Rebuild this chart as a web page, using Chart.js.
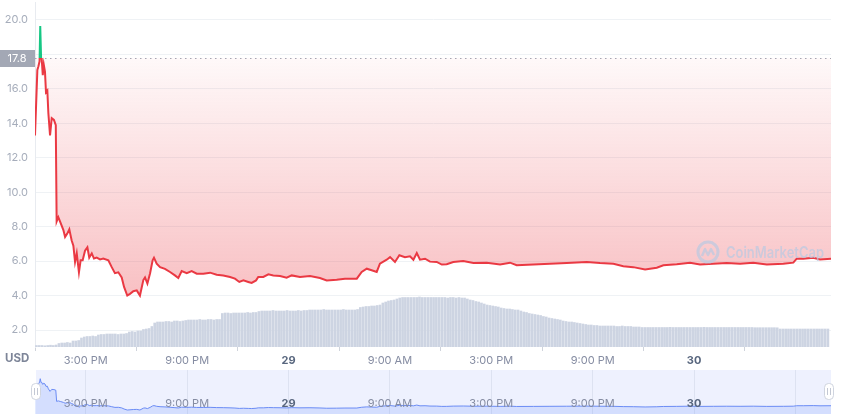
<!DOCTYPE html>
<html><head><meta charset="utf-8">
<script src="https://cdn.jsdelivr.net/npm/chart.js@4.4.1/dist/chart.umd.min.js"></script>
<style>
html,body{margin:0;padding:0;background:#fff;width:855px;height:419px;overflow:hidden}
#main{position:absolute;left:0;top:0}
#nav{position:absolute;left:0;top:370px}
</style></head><body>
<canvas id="main" width="855" height="370"></canvas>
<canvas id="nav" width="855" height="45"></canvas>
<script>
// ---- data ----
const priceHours = [12.00,12.14,12.20,12.27,12.31,12.36,12.40,12.46,12.52,12.59,12.65,12.73,12.79,12.89,12.99,13.12,13.23,13.28,13.38,13.52,
13.68,13.78,13.91,14.03,14.17,14.27,14.37,14.47,14.60,14.70,14.82,14.96,15.10,15.21,15.36,15.49,15.65,15.85,16.04,16.34,
16.54,16.73,16.93,17.13,17.27,17.46,17.62,17.82,18.02,18.21,18.41,18.51,18.65,18.81,18.96,19.04,19.20,19.40,19.69,19.99,
20.28,20.48,20.68,20.98,21.27,21.57,21.96,22.36,22.75,23.14,23.54,23.83,24.09,24.33,24.62,24.82,25.08,25.21,25.51,25.81,
26.10,26.50,26.89,27.19,27.68,28.27,28.86,29.26,29.85,30.34,31.04,31.33,31.63,31.92,32.22,32.41,32.81,33.01,33.30,33.56,
33.89,34.19,34.39,34.59,34.78,35.08,35.37,35.77,36.07,36.36,36.75,37.34,37.94,38.73,39.52,40.11,40.50,41.49,42.47,43.46,
44.65,45.43,46.22,46.81,47.40,48.10,48.79,49.18,49.97,50.76,51.35,52.14,52.93,53.72,54.50,55.30,56.28,56.87,57.07,57.46,
58.05,58.45,59.10];
const priceUSD = [13.3,17.1,17.3,17.6,19.65,17.8,17.7,16.8,17.4,17.0,15.8,15.9,14.6,13.3,14.3,14.2,13.9,8.3,8.55,8.2,
7.8,7.4,7.6,7.85,7.2,6.9,5.95,6.45,5.35,6.05,6.05,6.6,6.8,6.2,6.45,6.15,6.2,6.1,6.15,6.05,
5.65,5.3,5.35,5.05,4.5,4.0,4.1,4.25,4.3,4.0,4.9,5.05,4.7,5.3,6.05,6.2,5.85,5.65,5.55,5.37,
5.17,5.02,5.42,5.3,5.42,5.27,5.27,5.33,5.21,5.17,5.08,4.98,4.79,4.88,4.79,4.73,4.88,5.08,5.08,5.23,
5.17,5.13,5.04,5.17,5.08,5.13,5.02,4.88,4.92,4.98,4.98,5.37,5.56,5.47,5.37,5.85,6.08,6.23,5.95,6.34,
6.23,6.28,6.08,6.47,6.08,6.14,5.97,5.95,5.8,5.82,5.95,6.0,5.89,5.91,5.8,5.91,5.76,5.8,5.85,5.89,
5.95,5.89,5.85,5.7,5.65,5.52,5.62,5.76,5.82,5.91,5.8,5.85,5.89,5.85,5.91,5.8,5.85,5.91,6.14,6.14,
6.2,6.1,6.14];
// volume (millions USD) per 10-minute bar, starting at hour 12
const volumeStart = 12;
const volumeStep = 1/6;
const volumeM = [
0.15,0.15,0.15,0.12,0.15,0.18,0.15,0.2,
0.35,0.4,0.4,0.45,0.4,
0.6,0.6,0.65,
0.9,
1.0,1.05,1.05,1.1,1.05,
1.2,1.25,1.25,1.3,1.3,1.3,1.3,1.25,1.3,1.3,1.35,
1.5,1.55,1.5,1.6,1.6,
1.75,1.8,1.85,
2.05,
2.4,2.5,2.5,2.5,2.55,2.55,2.5,2.6,2.6,2.55,2.6,
2.65,2.7,2.7,2.7,2.7,2.75,2.7,2.7,2.75,2.75,2.7,2.75,2.75,
3.35,3.4,3.4,3.35,3.4,3.4,3.4,3.4,3.4,3.45,3.4,3.45,3.45,
3.55,3.6,3.6,3.6,3.6,3.65,3.6,3.6,3.6,3.6,3.65,3.6,3.6,3.6,3.65,3.6,3.65,3.65,
3.7,3.7,3.7,3.7,3.7,3.75,3.7,3.7,3.7,3.7,3.7,3.7,3.75,3.7,3.7,3.7,3.7,3.75,
3.95,4.0,4.05,4.05,4.1,4.1,4.15,4.2,
4.4,4.5,4.6,4.65,4.7,4.8,
4.9,4.95,4.95,4.95,4.95,4.95,4.95,5.0,4.95,4.95,4.95,4.95,4.95,4.95,4.95,4.95,4.95,4.9,4.95,4.95,4.9,4.95,4.9,4.9,
4.8,4.7,4.65,4.55,4.5,4.4,
4.3,4.2,4.15,4.1,4.05,4.0,
3.9,3.85,3.8,3.8,3.75,3.7,3.7,3.6,3.5,3.45,3.35,
3.3,3.25,3.2,3.15,3.05,3.0,
2.9,2.85,2.8,2.75,2.7,2.6,2.55,
2.5,2.5,2.45,2.4,2.35,2.3,2.25,
2.2,2.2,2.15,2.15,2.1,2.1,2.1,2.1,2.1,2.1,2.05,2.05,2.1,2.05,2.05,2.05,2.0,2.0,2.0,
1.95,1.95,1.95,1.95,1.95,1.95,1.95,1.95,1.95,1.95,1.97,1.95,1.95,1.95,1.95,1.95,1.95,1.95,1.95,1.95,
1.95,1.95,1.97,1.95,1.95,1.95,1.95,1.95,1.95,1.95,1.95,1.95,1.95,1.95,1.95,1.95,1.95,1.95,1.95,1.95,
1.93,1.93,1.93,1.93,1.93,1.93,1.93,1.93,1.92,
1.8,1.8,1.8,1.8,1.8,1.8,1.8,1.8,1.8,1.8,1.8,1.8,1.8,1.8,1.8,1.8,1.8,1.8];
const BASELINE = 17.8;
const xTickValues = [15,21,27,33,39,45,51];
const xTickLabels = ['3:00 PM','9:00 PM','29','9:00 AM','3:00 PM','9:00 PM','30'];
const boldLabels = ['29','30'];
const navGridValues = [15,21,27,33,39,45,51,57];
const yTickValues = [2,4,6,8,10,12,14,16,18,20];
const currencyLabel = 'USD';
const watermarkText = 'CoinMarketCap';

const X_MIN = 12, X_MAX = 59.1;
const FONT = 'Inter, "Noto Sans", sans-serif';

const pricePoints = priceHours.map((h,i)=>({x:h, y:priceUSD[i]}));
const volumePoints = volumeM.map((v,i)=>({x: volumeStart + (i+0.5)*volumeStep, y:v}));

function labelFor(v){ const i = xTickValues.indexOf(v); return i>=0 ? xTickLabels[i] : ''; }

function lineGrad(chart){
  const {ctx, chartArea, scales} = chart;
  if(!chartArea) return '#ea3943';
  const py = scales.y.getPixelForValue(BASELINE);
  const f = Math.min(1, Math.max(0, (py - chartArea.top)/(chartArea.bottom - chartArea.top)));
  const g = ctx.createLinearGradient(0, chartArea.top, 0, chartArea.bottom);
  g.addColorStop(0, '#16c784'); g.addColorStop(f, '#16c784');
  g.addColorStop(f, '#ea3943'); g.addColorStop(1, '#ea3943');
  return g;
}
function fillGrad(chart){
  const {ctx, chartArea, scales} = chart;
  if(!chartArea) return 'rgba(234,57,67,0.2)';
  const py = scales.y.getPixelForValue(BASELINE);
  const f = Math.min(1, Math.max(0, (py - chartArea.top)/(chartArea.bottom - chartArea.top)));
  const g = ctx.createLinearGradient(0, chartArea.top, 0, chartArea.bottom);
  g.addColorStop(0, 'rgba(22,199,132,0.15)'); g.addColorStop(f, 'rgba(22,199,132,0.04)');
  g.addColorStop(f, 'rgba(234,57,67,0.03)'); g.addColorStop(1, 'rgba(234,57,67,0.38)');
  return g;
}

const mainDecor = {
  id:'mainDecor',
  beforeDatasetsDraw(chart){
    const {ctx, chartArea, scales} = chart;
    const py = Math.round(scales.y.getPixelForValue(BASELINE)) + 0.5;
    ctx.save();
    ctx.strokeStyle = '#a3a9b6'; ctx.lineWidth = 1.2; ctx.setLineDash([1.5,3.5]);
    ctx.beginPath(); ctx.moveTo(chartArea.left, py); ctx.lineTo(chartArea.right, py); ctx.stroke();
    ctx.restore();
  },
  afterDatasetsDraw(chart){
    const {ctx} = chart;
    ctx.save();
    const cx = 708, cy = 252;
    ctx.strokeStyle = 'rgba(190,202,224,0.75)'; ctx.lineWidth = 3;
    ctx.beginPath(); ctx.arc(cx, cy, 10, 0, Math.PI*2); ctx.stroke();
    ctx.lineWidth = 2.5; ctx.lineJoin = 'round';
    ctx.beginPath(); ctx.moveTo(cx-6, cy+4); ctx.lineTo(cx-3, cy-3); ctx.lineTo(cx, cy+3); ctx.lineTo(cx+3, cy-3); ctx.lineTo(cx+6, cy+3); ctx.stroke();
    ctx.fillStyle = 'rgba(190,202,224,0.75)';
    ctx.font = '600 16px ' + FONT; ctx.textBaseline = 'middle'; ctx.textAlign = 'left';
    ctx.fillText(watermarkText, 726, cy+1, 98);
    ctx.restore();
  },
  afterDraw(chart){
    const {ctx, scales} = chart;
    const py = scales.y.getPixelForValue(BASELINE);
    ctx.save();
    ctx.fillStyle = '#a3a8b5';
    ctx.fillRect(0, Math.round(py) - 8, 35, 17);
    ctx.fillStyle = '#ffffff'; ctx.font = '11px ' + FONT;
    ctx.textAlign = 'center'; ctx.textBaseline = 'middle';
    ctx.fillText(BASELINE.toFixed(1), 17, Math.round(py) + 0.5);
    ctx.fillStyle = '#7d8598'; ctx.font = '700 11.5px ' + FONT; ctx.textAlign = 'left';
    ctx.fillText(currencyLabel, 5, 358.5);
    ctx.restore();
  }
};

function noPad(s){ s.paddingTop = 0; s.paddingBottom = 0; s.paddingLeft = 0; s.paddingRight = 0; }

new Chart(document.getElementById('main'), {
  type:'line',
  data:{ datasets:[
    { type:'line', data: pricePoints, xAxisID:'x', yAxisID:'y', order:0,
      borderColor: c => lineGrad(c.chart), backgroundColor: c => fillGrad(c.chart),
      fill:{ target:{ value: BASELINE } }, borderWidth:2, pointRadius:0, tension:0 },
    { type:'bar', data: volumePoints, xAxisID:'x', yAxisID:'yv', order:1,
      backgroundColor:'#cdd4e2', barThickness:2, borderWidth:0 }
  ]},
  options:{
    responsive:false, animation:false, devicePixelRatio:1,
    layout:{ padding:{ top:2, right:24, left:0, bottom:0 } },
    plugins:{ legend:{display:false}, tooltip:{enabled:false} },
    scales:{
      x:{ type:'linear', min:X_MIN, max:X_MAX, offset:false,
        afterBuildTicks: s => { s.ticks = xTickValues.map(v=>({value:v})); },
        afterFit: s => { s.height = 23; noPad(s); },
        ticks:{ autoSkip:false, maxRotation:0, padding:3,
          callback: v => labelFor(v),
          font: c => ({ family: FONT, size: 11, weight: boldLabels.includes(labelFor(c.tick && c.tick.value)) ? '700' : '400' }),
          color: c => boldLabels.includes(labelFor(c.tick && c.tick.value)) ? '#58667e' : '#858ca2' },
        grid:{ drawOnChartArea:false, drawTicks:true, tickLength:4, color:'#cfd3db' },
        border:{ display:false } },
      y:{ type:'linear', position:'left', min:1.013, max:21.045,
        afterBuildTicks: s => { s.ticks = yTickValues.map(v=>({value:v})); },
        afterFit: s => { s.width = 35; noPad(s); },
        ticks:{ padding:7, callback: v => Number(v).toFixed(1), color:'#a6adbb', font:{ family: FONT, size: 11 } },
        grid:{ color:'#eff2f5', drawTicks:false },
        border:{ display:true, color:'#e8ebf0' } },
      yv:{ type:'linear', display:false, min:0, max:34.5 }
    }
  },
  plugins:[mainDecor]
});

const navDecor = {
  id:'navDecor',
  beforeDraw(chart){
    const {ctx, chartArea} = chart;
    ctx.save(); ctx.fillStyle = '#eef1fe';
    ctx.fillRect(chartArea.left+1, chartArea.top, chartArea.right-chartArea.left-1, chartArea.bottom-chartArea.top);
    ctx.restore();
  },
  afterDatasetsDraw(chart){
    const {ctx, scales} = chart;
    ctx.save();
    ctx.textAlign = 'center'; ctx.textBaseline = 'middle';
    xTickValues.forEach((v,i) => {
      const b = boldLabels.includes(xTickLabels[i]);
      ctx.font = (b ? '700 ' : '400 ') + '11px ' + FONT;
      ctx.fillStyle = b ? '#58667e' : '#858ca2';
      ctx.fillText(xTickLabels[i], scales.x.getPixelForValue(v), 34);
    });
    function handle(x){
      ctx.fillStyle = '#ffffff'; ctx.strokeStyle = '#cfd4df'; ctx.lineWidth = 1;
      ctx.beginPath();
      if (ctx.roundRect) ctx.roundRect(x-4.5, 13.5, 9, 16, 4); else ctx.rect(x-4.5, 13.5, 9, 16);
      ctx.fill(); ctx.stroke();
      ctx.strokeStyle = '#c3c8d4';
      ctx.beginPath(); ctx.moveTo(x-1.5, 18); ctx.lineTo(x-1.5, 25); ctx.moveTo(x+1.5, 18); ctx.lineTo(x+1.5, 25); ctx.stroke();
    }
    handle(36); handle(829);
    ctx.restore();
  }
};

new Chart(document.getElementById('nav'), {
  type:'line',
  data:{ datasets:[
    { data: pricePoints, borderColor:'#6b8cf5', borderWidth:1, pointRadius:0, tension:0,
      fill:'start', backgroundColor:'rgba(97,136,255,0.18)' }
  ]},
  options:{
    responsive:false, animation:false, devicePixelRatio:1,
    layout:{ padding:{ top:0, right:24, left:35, bottom:1 } },
    plugins:{ legend:{display:false}, tooltip:{enabled:false} },
    scales:{
      x:{ type:'linear', min:X_MIN, max:X_MAX,
        afterBuildTicks: s => { s.ticks = navGridValues.map(v=>({value:v})); },
        afterFit: s => { s.height = 0; noPad(s); },
        ticks:{ display:false },
        grid:{ color:'#dde2f1', drawTicks:false },
        border:{ display:false } },
      y:{ type:'linear', display:false, min:2, max:24 }
    }
  },
  plugins:[navDecor]
});
</script>
</body></html>
